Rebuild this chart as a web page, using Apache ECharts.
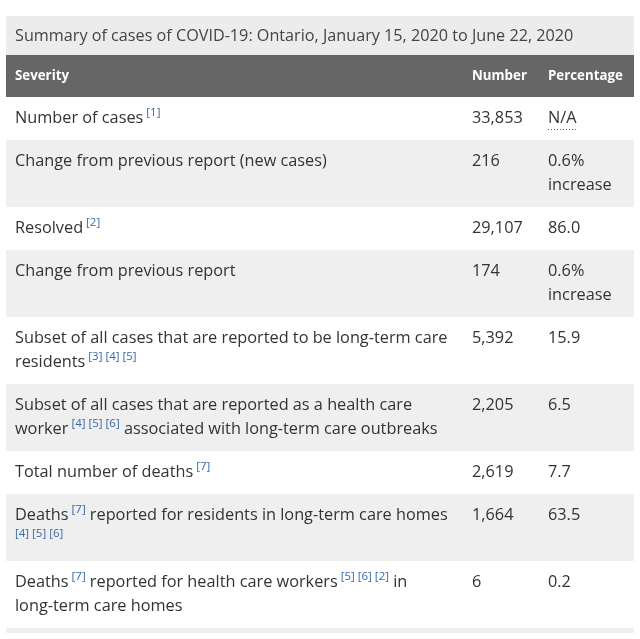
<!DOCTYPE html>
<html>
<head>
<meta charset="utf-8">
<script src="https://cdn.jsdelivr.net/npm/echarts@6/dist/echarts.min.js"></script>
<style>
  html, body { margin: 0; padding: 0; background: #fff; }
  #main { width: 640px; height: 639px; }
</style>
</head>
<body>
<div id="main"></div>
<script>
// 表格数据
var titleText = 'Summary of cases of COVID-19: Ontario, January 15, 2020 to June 22, 2020';
var headers = ['Severity', 'Number', 'Percentage'];
var severity = [
  'Number of cases [1]',
  'Change from previous report (new cases)',
  'Resolved [2]',
  'Change from previous report',
  'Subset of all cases that are reported to be long-term care\nresidents [3] [4] [5]',
  'Subset of all cases that are reported as a health care\nworker [4] [5] [6] associated with long-term care outbreaks',
  'Total number of deaths [7]',
  'Deaths [7] reported for residents in long-term care homes\n[4] [5] [6]',
  'Deaths [7] reported for health care workers [5] [6] [2] in\nlong-term care homes'
];
var numbers = ['33,853', '216', '29,107', '174', '5,392', '2,205', '2,619', '1,664', '6'];
var percentages = ['N/A', '0.6%\nincrease', '86.0', '0.6%\nincrease', '15.9', '6.5', '7.7', '63.5', '0.2'];

(function() {
  var ink = '#333333';
  var refColor = '#3a68a8';
  var rowGrey = '#efefef';
  var fontFamily = "'Open Sans', 'Noto Sans', sans-serif";
  var bodySize = 16.3;
  var headSize = 13.3;
  var lineH = 24;
  var padY = 9.5;
  var colX = [9, 466, 542];

  var gridLeft = 6, gridTop = 97, gridWidth = 628;

  function lines(s) { return s.split('\n').length; }
  // 脚注引用：前导空格放进小号字里，间距更窄
  function richify(s) { return s.replace(/( ?)\[(\d+)\]/g, '{ref|$1[$2]}'); }

  // 行高由内容行数决定
  var rows = [];
  var acc = 0;
  severity.forEach(function(s, i) {
    var n = Math.max(lines(s), lines(percentages[i]));
    var h = padY * 2 + lineH * n;
    rows.push([0, acc, acc + h]);
    acc += h;
  });
  var total = acc;

  var chart = echarts.init(document.getElementById('main'), null, { renderer: 'canvas' });

  function cellText(x, y, text, rich) {
    return {
      type: 'text',
      style: {
        x: x, y: y,
        text: text,
        fill: ink,
        fontSize: bodySize,
        fontFamily: fontFamily,
        lineHeight: lineH,
        verticalAlign: 'top',
        align: 'left',
        rich: rich || undefined
      }
    };
  }

  function headText(i) {
    return {
      type: 'text',
      style: {
        x: gridLeft + colX[i], y: 76, text: headers[i], fill: '#fff',
        fontSize: headSize, fontWeight: 'bold', fontFamily: fontFamily, verticalAlign: 'middle'
      }
    };
  }

  chart.setOption({
    animation: false,
    grid: { left: gridLeft, top: gridTop, width: gridWidth, height: total },
    xAxis: { type: 'value', min: 0, max: 1, show: false },
    yAxis: { type: 'value', min: 0, max: total, inverse: true, show: false },
    graphic: [
      { type: 'rect', shape: { x: 6, y: 16, width: 628, height: 39 }, style: { fill: '#ececec' } },
      { type: 'text', style: { x: 15, y: 36, text: titleText, fill: '#444444', fontSize: 16.2, fontFamily: fontFamily, verticalAlign: 'middle' } },
      { type: 'rect', shape: { x: 6, y: 55, width: 628, height: 42 }, style: { fill: '#666666' } },
      headText(0),
      headText(1),
      headText(2),
      { type: 'rect', shape: { x: 6, y: gridTop + total, width: 628, height: 5 }, style: { fill: rowGrey } }
    ],
    series: [{
      type: 'custom',
      coordinateSystem: 'cartesian2d',
      encode: { x: 0, y: [1, 2] },
      clip: false,
      data: rows,
      renderItem: function(params, api) {
        var i = params.dataIndex;
        var p0 = api.coord([0, api.value(1)]);
        var p1 = api.coord([1, api.value(2)]);
        var left = p0[0], top = p0[1];
        var children = [
          { type: 'rect', shape: { x: left, y: top, width: p1[0] - left, height: p1[1] - top }, style: { fill: i % 2 ? rowGrey : '#ffffff' } },
          cellText(left + colX[0], top + padY, richify(severity[i]), {
            ref: { fontSize: 11.5, fontFamily: fontFamily, fill: refColor, lineHeight: 14, verticalAlign: 'top' }
          }),
          cellText(left + colX[1], top + padY, numbers[i]),
          cellText(left + colX[2], top + padY, percentages[i])
        ];
        if (percentages[i] === 'N/A') {
          var w = new echarts.graphic.Text({ style: { text: 'N/A', fontSize: bodySize, fontFamily: fontFamily } }).getBoundingRect().width;
          var uy = top + padY + lineH - 1;
          children.push({
            type: 'line',
            shape: { x1: left + colX[2], y1: uy, x2: left + colX[2] + w, y2: uy },
            style: { stroke: '#666', lineWidth: 1, lineDash: [1, 2] }
          });
        }
        return { type: 'group', children: children };
      }
    }]
  });
})();
</script>
</body>
</html>
